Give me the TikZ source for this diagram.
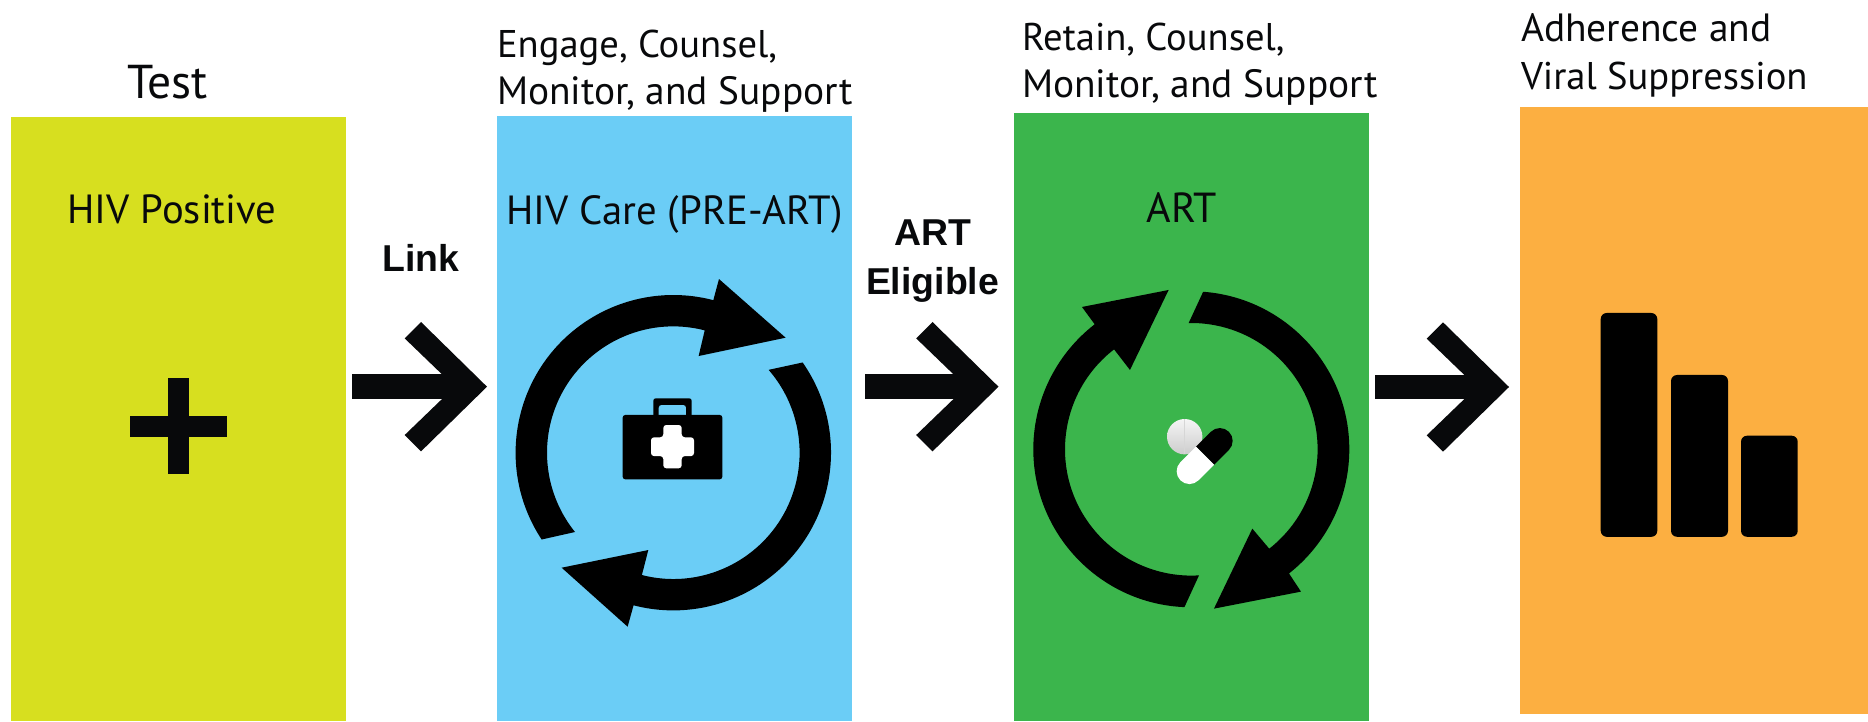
\documentclass[tikz,border=0pt]{standalone}
\usepackage{fontspec}
\setmainfont{PT Sans}
\newfontfamily\arialfont{Liberation Sans}
\usetikzlibrary{shadings}
\definecolor{ink}{HTML}{08090B}
\definecolor{cyel}{HTML}{D7DF1F}
\definecolor{cblu}{HTML}{6BCDF6}
\definecolor{cgrn}{HTML}{3BB54C}
\definecolor{corg}{HTML}{FCAF41}
\tikzset{
  panel/.style={inner sep=0pt,outer sep=0pt,anchor=north west},
  caption/.style={inner sep=0pt,outer sep=0pt,anchor=base west,align=left,text=ink,font=\fontsize{39.4}{57}\selectfont},
  captiontight/.style={caption,font=\fontsize{38.6}{57}\selectfont},
  boxlabel/.style={inner sep=0pt,outer sep=0pt,anchor=base,text=ink,font=\fontsize{40.7}{46}\selectfont},
  linklabel/.style={inner sep=0pt,outer sep=0pt,anchor=base,align=center,text=ink,font=\arialfont\bfseries\fontsize{37.4}{50}\selectfont},
  shaft/.style={draw=ink,line width=24.7pt,shorten >=40pt},
  pics/chevron/.style={code={
    \fill[ink] (0,0)--(-66,64.7)--(-82.3,48.3)--(-45,12.35)--(-45,-12.35)--(-82.3,-48.3)--(-66,-64.7)--cycle;
  }}
}
\begin{document}
\begin{tikzpicture}[x=1pt,y=1pt]
\useasboundingbox (0,0) rectangle (1868,721);
% panels
\node[panel,fill=cyel,minimum width=335pt,minimum height=604pt] (p1) at (11,604) {};
\node[panel,fill=cblu,minimum width=355pt,minimum height=605pt] (p2) at (497,605) {};
\node[panel,fill=cgrn,minimum width=355pt,minimum height=608pt] (p3) at (1014,608) {};
\node[panel,fill=corg,minimum width=348pt,minimum height=607pt] (p4) at (1520,614) {};
% captions
\node[caption,font=\fontsize{47.5}{50}\selectfont] (t1) at (127,622.7) {Test};
\node[captiontight] (t2) at (497,663) {Engage, Counsel,};
\node[caption] (t2b) at (497,616) {Monitor, and Support};
\node[captiontight] (t3) at (1022,670) {Retain, Counsel,};
\node[caption] (t3b) at (1022,623) {Monitor, and Support};
\node[caption] (t4) at (1521,679) {Adherence and};
\node[captiontight] (t4b) at (1521,631) {Viral Suppression};
% box labels
\node[boxlabel] (l1) at (172,497.5) {HIV Positive};
\node[boxlabel] (l2) at (675,496) {HIV Care (PRE-ART)};
\node[boxlabel,font=\fontsize{42}{46}\selectfont] (l3) at (1182,498) {ART};
% link labels
\node[linklabel] (k1) at (421,449.3) {Link};
\node[linklabel] (k2) at (932.5,475) {ART};
\node[linklabel] (k2b) at (932.5,426) {Eligible};
% block arrows
\coordinate (a1s) at (352,334.3); \coordinate (a1t) at (487,334.3);
\coordinate (a2s) at (865,334.3); \coordinate (a2t) at (998.5,334.3);
\coordinate (a3s) at (1375,334); \coordinate (a3t) at (1509,334);
\draw[shaft] (a1s) -- (a1t); \pic at (a1t) {chevron};
\draw[shaft] (a2s) -- (a2t); \pic at (a2t) {chevron};
\draw[shaft] (a3s) -- (a3t); \pic at (a3t) {chevron};
% plus
\fill[ink] (130.3,284.3) rectangle (226.7,305);
\fill[ink] (168.3,246.7) rectangle (189.3,342.7);
% ring 2
\begin{scope}[shift={(673.3,268.3)}]
\fill[black] (213.4:157.7) arc[start angle=213.4,end angle=75.3,radius=157.7]
  -- (45.67,173.67) -- (112.33,115) -- (25.33,96.67) -- (75.6:126.3)
  arc[start angle=75.6,end angle=218.9,radius=126.3] -- cycle;
\fill[black] (34.9:157.7) arc[start angle=34.9,end angle=-104.6,radius=157.7]
  -- (-45.67,-174) -- (-111.67,-115) -- (-25,-97.33) -- (-104.4:126.3)
  arc[start angle=-104.4,end angle=41,radius=126.3] -- cycle;
\end{scope}
% medical case
\fill[black,rounded corners=2.5pt,even odd rule] (653.3,300) -- (653.3,322.7) -- (691.7,322.7) -- (691.7,300) -- cycle
  (658.7,300) -- (658.7,316) -- (686,316) -- (686,300) -- cycle;
\fill[black,rounded corners=2.5pt] (622.7,241.7) rectangle (722.3,306);
\fill[white,rounded corners=3pt] (663.3,252.7) -- (663.3,264.9) -- (651,264.9) -- (651,283.7) -- (663.3,283.7) -- (663.3,296) -- (681.7,296) -- (681.7,283.7) -- (694,283.7) -- (694,264.9) -- (681.7,264.9) -- (681.7,252.7) -- cycle;
% ring 3
\begin{scope}[shift={(1191.3,271.7)}]
\fill[black] (85.7:158) arc[start angle=85.7,end angle=-51.8,radius=158]
  -- (109.67,-142.33) -- (22.67,-159.33) -- (61,-79.33) -- (-51.9:126.3)
  arc[start angle=-51.9,end angle=91.2,radius=126.3] -- cycle;
\fill[black] (267.5:158) arc[start angle=267.5,end angle=127.7,radius=158]
  -- (-109.33,142.33) -- (-22.67,159.33) -- (-61.33,79.33) -- (127.7:126.3)
  arc[start angle=127.7,end angle=273.5,radius=126.3] -- cycle;
\end{scope}
% tablet
\shade[top color=white!96!black,bottom color=white!80!black] (1184.7,284.3) circle[radius=17.7];
\draw[white!84!black,line width=.6pt] (1184.7,267) -- (1184.7,302);
% capsule
\begin{scope}[shift={(1205,265.3)},rotate=45]
\fill[black] (0,-12.8) -- (21,-12.8) arc[start angle=-90,end angle=90,radius=12.8] -- (0,12.8) -- cycle;
\fill[white] (0,12.8) -- (-22,12.8) arc[start angle=90,end angle=270,radius=12.8] -- (0,-12.8) -- cycle;
\end{scope}
% bars
\fill[black,rounded corners=6pt] (1600.7,184.2) rectangle (1657.3,408);
\fill[black,rounded corners=6pt] (1671,184.2) rectangle (1728,346);
\fill[black,rounded corners=6pt] (1741,184.2) rectangle (1797.7,285.3);
\end{tikzpicture}
\end{document}
